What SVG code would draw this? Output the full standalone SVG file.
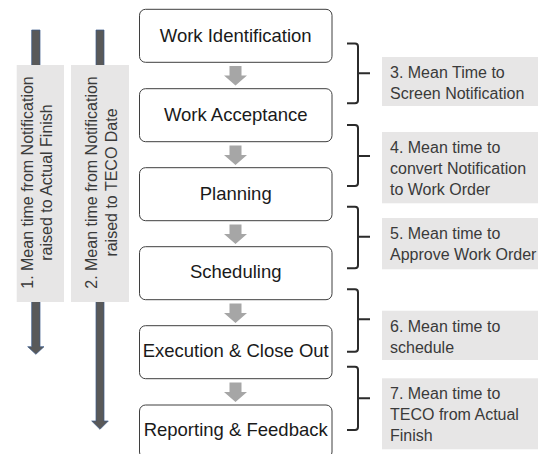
<svg xmlns="http://www.w3.org/2000/svg" width="538" height="454" viewBox="0 0 538 454">
<style>
.node rect{fill:#ffffff;stroke:#3f3f3f;stroke-width:1}
.node text{font-family:"Liberation Sans",Arial,sans-serif;font-size:18.5px;fill:#1a1a1a;text-anchor:middle}
.lbl rect{fill:#e7e6e6}
.lbl text{font-family:"Liberation Sans",Arial,sans-serif;font-size:16px;fill:#3a3a3a}
.rot text{text-anchor:middle}
.flow{fill:#a6a6a6}
.big{fill:#595959;stroke:#3b5a8a;stroke-width:0.7}
.brace{fill:none;stroke:#2b2b2b;stroke-width:2}
</style>
<rect width="538" height="454" fill="#ffffff"/>
<g id="connectors">
  <polygon class="big" points="31.7,30 40,30 40,346.7 44,346.7 35.85,354.3 27.7,346.7 31.7,346.7"/>
  <polygon class="big" points="96,30 104,30 104,421 108.3,421 100,429.3 91.7,421 96,421"/>
  <polygon class="flow" points="229.5,66 241.5,66 241.5,75.5 247,75.5 235.5,85.5 224,75.5 229.5,75.5"/>
  <polygon class="flow" points="229.5,145.5 241.5,145.5 241.5,155 247,155 235.5,165 224,155 229.5,155"/>
  <polygon class="flow" points="229.5,224.5 241.5,224.5 241.5,234 247,234 235.5,244 224,234 229.5,234"/>
  <polygon class="flow" points="229.5,303.5 241.5,303.5 241.5,313 247,313 235.5,323 224,313 229.5,313"/>
  <polygon class="flow" points="229.5,382.5 241.5,382.5 241.5,392 247,392 235.5,402 224,392 229.5,392"/>
  <path class="brace" d="M347,43.5 H355 Q358,43.5 358,46.5 V73.3 H370 M358,73.3 V100.3 Q358,103.3 355,103.3 H347"/>
  <path class="brace" d="M347,125 H355 Q358,125 358,128 V156 H370 M358,156 V183 Q358,186 355,186 H347"/>
  <path class="brace" d="M347,206.7 H355 Q358,206.7 358,209.7 V236.7 H370 M358,236.7 V265.3 Q358,268.3 355,268.3 H347"/>
  <path class="brace" d="M347,289.3 H355 Q358,289.3 358,292.3 V319.3 H370 M358,319.3 V348.7 Q358,351.7 355,351.7 H347"/>
  <path class="brace" d="M347,366.7 H355 Q358,366.7 358,369.7 V398.3 H370 M358,398.3 V427 Q358,430 355,430 H347"/>
</g>
<g id="label-1" class="lbl rot">
  <rect x="16.7" y="65" width="47.3" height="237"/>
  <text transform="translate(33,182.5) rotate(-90)">1. Mean  time from Notification</text>
  <text transform="translate(52,182.5) rotate(-90)">raised to Actual Finish</text>
</g>
<g id="label-2" class="lbl rot">
  <rect x="71" y="65" width="58" height="237"/>
  <text transform="translate(97.3,182.5) rotate(-90)">2. Mean time from Notification</text>
  <text transform="translate(116.5,182.5) rotate(-90)">raised to TECO Date</text>
</g>
<g id="work-identification" class="node">
  <rect x="139.5" y="9.3" width="192.5" height="53" rx="6"/>
  <text x="235.7" y="41.5">Work Identification</text>
</g>
<g id="work-acceptance" class="node">
  <rect x="139.5" y="88.7" width="192.5" height="53" rx="6"/>
  <text x="235.7" y="120.5">Work Acceptance</text>
</g>
<g id="planning" class="node">
  <rect x="139.5" y="167.7" width="192.5" height="53" rx="6"/>
  <text x="235.7" y="199.5">Planning</text>
</g>
<g id="scheduling" class="node">
  <rect x="139.5" y="246.7" width="192.5" height="53" rx="6"/>
  <text x="235.7" y="278">Scheduling</text>
</g>
<g id="execution-close-out" class="node">
  <rect x="139.5" y="325.7" width="192.5" height="53" rx="6"/>
  <text x="235.7" y="357">Execution &amp; Close Out</text>
</g>
<g id="reporting-feedback" class="node">
  <rect x="139.5" y="405" width="192.5" height="53" rx="6"/>
  <text x="235.7" y="436">Reporting &amp; Feedback</text>
</g>
<g id="metric-3" class="lbl">
  <rect x="382" y="57" width="156" height="49"/>
  <text x="390" y="77.5">3. Mean Time to</text>
  <text x="390" y="98.8">Screen Notification</text>
</g>
<g id="metric-4" class="lbl">
  <rect x="382" y="132" width="156" height="71.3"/>
  <text x="390" y="152.5">4. Mean time to</text>
  <text x="390" y="173.8">convert Notification</text>
  <text x="390" y="195">to Work Order</text>
</g>
<g id="metric-5" class="lbl">
  <rect x="382" y="218" width="156" height="51.3"/>
  <text x="390" y="238.5">5. Mean time to</text>
  <text x="390" y="259.8">Approve Work Order</text>
</g>
<g id="metric-6" class="lbl">
  <rect x="382" y="310.7" width="156" height="49.3"/>
  <text x="390" y="331.5">6. Mean time to</text>
  <text x="390" y="352.8">schedule</text>
</g>
<g id="metric-7" class="lbl">
  <rect x="382" y="378.3" width="156" height="71"/>
  <text x="390" y="398.5">7. Mean time to</text>
  <text x="390" y="419.8">TECO from Actual</text>
  <text x="390" y="441">Finish</text>
</g>
</svg>
